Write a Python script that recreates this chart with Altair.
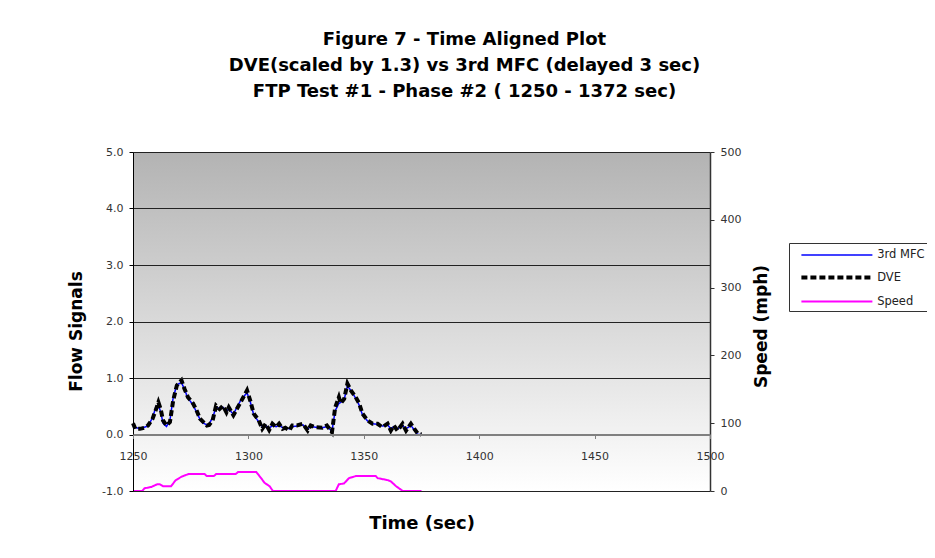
import altair as alt
import pandas as pd

# ---------------- data ----------------
flow_time = [1250, 1251, 1253, 1255, 1256.5, 1258.5, 1260, 1261, 1262, 1263,
             1264.5, 1266, 1267.4, 1269, 1271, 1272.3, 1273.8, 1275, 1276, 1277.5,
             1279, 1280.5, 1282, 1283, 1284.5, 1286, 1287.5, 1289, 1290.5, 1291.5,
             1293.5, 1295, 1297, 1299.4, 1300.8, 1302.3, 1304.5, 1306, 1307.5, 1309,
             1310.4, 1312, 1313.3, 1314.8, 1316, 1317.7, 1319, 1321, 1323.6, 1325.7,
             1327, 1329, 1332, 1334, 1336.2, 1337.6, 1339.2, 1340, 1341.5, 1342.9,
             1344.4, 1346.5, 1348, 1349.4, 1351.6, 1353.8, 1356, 1358, 1360.3, 1361.7,
             1363, 1364.6, 1366.8, 1368.3, 1370.4, 1371.9, 1373.3, 1375]

dve = [0.20, 0.10, 0.10, 0.12, 0.16, 0.28, 0.45, 0.57, 0.45, 0.25,
       0.16, 0.22, 0.60, 0.87, 0.96, 0.81, 0.66, 0.60, 0.55, 0.43,
       0.28, 0.22, 0.16, 0.17, 0.25, 0.51, 0.45, 0.51, 0.39, 0.48,
       0.34, 0.45, 0.60, 0.78, 0.60, 0.37, 0.25, 0.10, 0.19, 0.08,
       0.19, 0.13, 0.19, 0.10, 0.12, 0.07, 0.16, 0.16, 0.19, 0.07,
       0.16, 0.13, 0.12, 0.16, 0.04, 0.48, 0.66, 0.55, 0.63, 0.90,
       0.78, 0.66, 0.55, 0.37, 0.25, 0.19, 0.19, 0.13, 0.19, 0.07,
       0.16, 0.07, 0.19, 0.07, 0.19, 0.10, 0.02, 0.00]

mfc = [0.18, 0.12, 0.11, 0.13, 0.15, 0.30, 0.50, 0.52, 0.40, 0.20,
       0.14, 0.25, 0.65, 0.88, 0.92, 0.80, 0.64, 0.58, 0.52, 0.40,
       0.27, 0.20, 0.17, 0.19, 0.30, 0.48, 0.46, 0.48, 0.42, 0.45,
       0.36, 0.48, 0.63, 0.74, 0.58, 0.35, 0.22, 0.14, 0.16, 0.11,
       0.16, 0.14, 0.16, 0.12, 0.12, 0.10, 0.14, 0.15, 0.17, 0.10,
       0.14, 0.13, 0.12, 0.14, 0.06, 0.42, 0.55, 0.57, 0.62, 0.86,
       0.78, 0.64, 0.52, 0.35, 0.24, 0.19, 0.18, 0.15, 0.17, 0.10,
       0.14, 0.10, 0.16, 0.10, 0.16, 0.08, 0.00, 0.00]

speed_time = [1250, 1254, 1255, 1258, 1260.5, 1261.5, 1263, 1266.5, 1268.5, 1271,
              1274, 1281, 1282, 1285, 1286, 1294.5, 1295.5, 1303.4, 1305.5, 1307,
              1309.2, 1310.6, 1337.8, 1339.2, 1341.4, 1343.6, 1346.5, 1355.2, 1356, 1360.4,
              1361.8, 1364, 1366.9, 1375]
speed_mph = [0, 0, 4, 6, 10, 10, 7, 7, 16, 21,
             25, 25, 22, 22, 25, 25, 28, 28, 19, 12,
             7, 0, 0, 10, 11, 19, 22, 22, 19, 16,
             14, 7, 0, 0]

series_names = ["3rd MFC", "DVE", "Speed"]
series_colors = ["#0000ff", "#000000", "#ff00ff"]
series_dash = [[1, 0], [6, 3], [1, 0]]
series_width = [1.5, 4, 2]

x_ticks = [1250, 1300, 1350, 1400, 1450, 1500]
flow_ticks = [-1, 0, 1, 2, 3, 4, 5]
speed_ticks = [0, 100, 200, 300, 400, 500]

title_lines = ["Figure 7 - Time Aligned Plot",
               "DVE(scaled by 1.3)  vs 3rd MFC (delayed 3 sec)",
               "FTP Test #1 - Phase #2 ( 1250 - 1372 sec)"]

# ---------------- frames ----------------
df_mfc = pd.DataFrame({"t": flow_time, "value": mfc, "series": "3rd MFC"})
df_dve = pd.DataFrame({"t": flow_time, "value": dve, "series": "DVE"})
df_speed = pd.DataFrame({"t": speed_time, "mph": speed_mph, "series": "Speed"})

FONT = "DejaVu Sans"

x_axis = alt.Axis(values=x_ticks, format="d", orient="bottom", offset=-56.5,
                  domainColor="#808080", domainWidth=2, tickColor="#808080",
                  tickSize=4, labelFont=FONT, labelFontSize=11, labelColor="#333333",
                  labelPadding=12, labelFlush=False, labelOverlap=False, grid=False,
                  title="Time (sec)", titleFont=FONT, titleFontSize=18,
                  titleFontWeight="bold", titleColor="#000000", titleY=89,
                  titleBaseline="middle", zindex=2)

flow_axis = alt.Axis(values=flow_ticks, orient="left",
                     labelExpr="datum.value < 0 ? '-' + format(-datum.value, '.1f') : format(datum.value, '.1f')",
                     domainColor="#000000", domainWidth=1, tickColor="#000000",
                     tickSize=4, labelFont=FONT, labelFontSize=11, labelColor="#333333",
                     labelPadding=6, grid=True, gridColor="#222222", gridWidth=1,
                     title="Flow Signals", titleFont=FONT, titleFontSize=17,
                     titleFontWeight="bold", titleColor="#000000", titleAngle=270,
                     titleX=-57, titleY=179, titleBaseline="middle", zindex=1)

speed_axis = alt.Axis(values=speed_ticks, format="d", orient="right",
                      domainColor="#333333", domainWidth=1.5, tickColor="#333333",
                      tickSize=4, labelFont=FONT, labelFontSize=11, labelColor="#333333",
                      labelPadding=6, grid=False,
                      title="Speed (mph)", titleFont=FONT, titleFontSize=17,
                      titleFontWeight="bold", titleColor="#000000", titleAngle=270,
                      titleX=51, titleY=174, titleBaseline="middle", zindex=1)

x_enc = alt.X("t:Q", scale=alt.Scale(domain=[1250, 1500], nice=False, zero=False), axis=x_axis)
flow_y = alt.Y("value:Q", scale=alt.Scale(domain=[-1, 5], nice=False, zero=False), axis=flow_axis)
speed_y = alt.Y("mph:Q", scale=alt.Scale(domain=[0, 500], nice=False), axis=speed_axis)

legend = alt.Legend(orient="none", legendX=656, legendY=91, title=None,
                    symbolType="M-5,0H5", symbolSize=201.6, symbolOffset=34.4,
                    labelOffset=30.8, padding=4, rowPadding=7,
                    strokeColor="#333333", fillColor="#ffffff",
                    labelFont=FONT, labelFontSize=11.5, labelColor="#222222")

color_enc = alt.Color("series:N", scale=alt.Scale(domain=series_names, range=series_colors), legend=legend)
dash_enc = alt.StrokeDash("series:N", scale=alt.Scale(domain=series_names, range=series_dash), legend=legend)
width_enc = alt.StrokeWidth("series:N", scale=alt.Scale(type="ordinal", domain=series_names, range=series_width), legend=legend)

gradient = {"gradient": "linear", "x1": 0, "x2": 0, "y1": 0, "y2": 1,
            "stops": [{"offset": 0, "color": "#b3b3b3"}, {"offset": 1, "color": "#ffffff"}]}

one = alt.Data(values=[{"k": 1}])
bg = alt.Chart(one).mark_rect(fill=gradient).encode(
    x=alt.value(0), x2=alt.value("width"), y=alt.value(0), y2=alt.value("height"))

mfc_line = alt.Chart(df_mfc).mark_line().encode(
    x=x_enc, y=flow_y, color=color_enc, strokeDash=dash_enc, strokeWidth=width_enc)
dve_line = alt.Chart(df_dve).mark_line().encode(
    x=x_enc, y=flow_y, color=color_enc, strokeDash=dash_enc, strokeWidth=width_enc)
speed_line = alt.Chart(df_speed).mark_line().encode(
    x=x_enc, y=speed_y, color=color_enc, strokeDash=dash_enc, strokeWidth=width_enc)

flow_layer = alt.layer(bg, mfc_line, dve_line)

chart = alt.layer(flow_layer, speed_line).resolve_scale(y="independent").properties(
    width=577, height=339,
    padding={"left": 125, "top": 144, "right": 217, "bottom": 50},
    autosize=alt.AutoSizeParams(type="none"),
    title=alt.Title(text=title_lines, font=FONT, fontSize=18, fontWeight="bold",
                    color="#000000", lineHeight=26, anchor="middle", frame="group",
                    dx=43, offset=45),
    background="#ffffff",
).configure_view(strokeWidth=0)

chart.save("out.html", embed_options={"renderer": "svg", "actions": False})
